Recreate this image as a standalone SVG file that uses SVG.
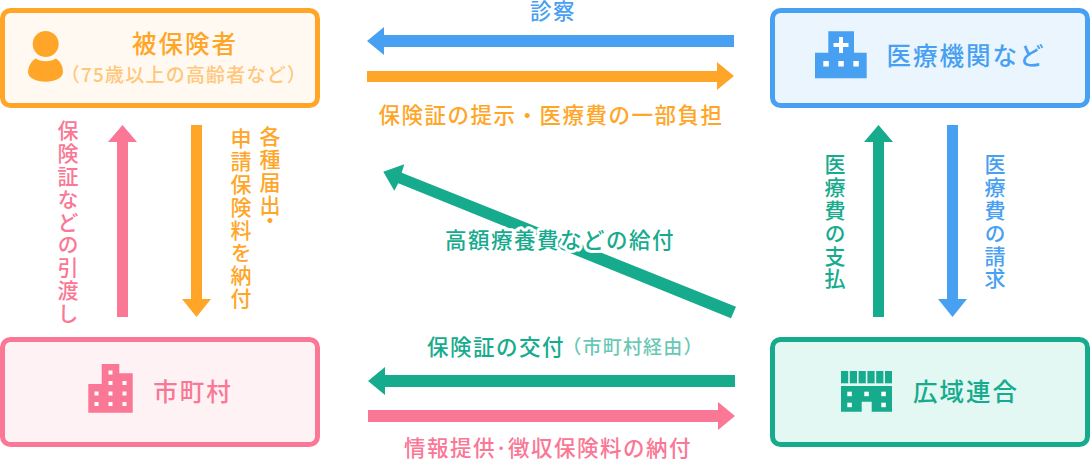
<svg xmlns="http://www.w3.org/2000/svg" width="1090" height="460" viewBox="0 0 1090 460">
<style>
text{font-family:"Noto Sans CJK JP","Noto Sans",sans-serif;font-weight:500;}
.box{stroke-width:5;}
.nm{font-size:24.500px;letter-spacing:2px;text-anchor:middle;}
.lb{font-size:21.500px;letter-spacing:1.500px;text-anchor:middle;}
.sub{font-size:19px;letter-spacing:1.200px;text-anchor:middle;}
.v{font-size:21px;letter-spacing:1.800px;writing-mode:vertical-rl;text-orientation:upright;}
.o{fill:#FFA629;}.b{fill:#48A0F2;}.g{fill:#17AB8E;}.p{fill:#FA7795;}
.w{fill:#fff;}
.halo{stroke:#fff;stroke-width:6px;paint-order:stroke;stroke-linejoin:round;}
</style>
<g id="connectors">
<polygon class="b" points="734,35 384,35 384,27 367,41 384,55 384,47 734,47"/>
<polygon class="o" points="367,71 717,71 717,62 734,76 717,90 717,82 367,82"/>
<polygon class="g" points="735,375 385,375 385,367 368,381 385,395 385,387 735,387"/>
<polygon class="p" points="368,410 718,410 718,402 735,416 718,430 718,422 368,422"/>
<polygon class="p" points="117,317 117,142 108,142 122.500,125 137,142 128,142 128,317"/>
<polygon class="o" points="191,125 191,299 182,299 196.500,317 211,299 202,299 202,125"/>
<polygon class="g" points="873,317 873,142 864,142 878.500,125 893,142 884,142 884,317"/>
<polygon class="b" points="947,125 947,299 938,299 952.500,317 967,299 958,299 958,125"/>
<polygon class="g" points="736,306.700 401.700,172.700 404.300,164.300 383.300,171.700 394.300,190.700 398.300,183.300 731,318.300"/>
</g>
<g id="labels">
<text class="lb b" x="553" y="19">診察</text>
<text class="lb o" x="551" y="123">保険証の提示・医療費の一部負担</text>
<text class="lb g halo" x="560" y="248">高額療養費などの給付</text>
<text class="lb g" x="496" y="355">保険証の交付</text>
<text class="sub g" x="633" y="354" opacity="0.65">（市町村経由）</text>
<text class="lb p" x="548" y="456">情報提供<tspan dx="-1">·</tspan><tspan dx="-1">徴収保険料の納付</tspan></text>
<text class="v p" x="68" y="120">保険証などの引渡し</text>
<text class="v o" x="241" y="128">申請保険料を納付</text>
<text class="v o" x="270" y="126">各種届出<tspan dy="-7">・</tspan></text>
<text class="v g" x="835" y="154">医療費の支払</text>
<text class="v b" x="995" y="154">医療費の請求</text>
</g>
<g id="node-insured">
<rect class="box" x="2.500" y="10.500" width="315" height="95" rx="8" fill="#FFF9F2" stroke="#FFA629"/>
<circle class="o" cx="45.700" cy="44" r="13"/>
<path class="o" d="M28 72C28.500 65 32 60.500 36 58.500C40 62 51.500 62 55.500 58.500C59.500 60.500 63 65 63 72C63 78 55 81.700 45.700 81.700C36 81.700 28 78 28 72Z"/>
<text class="nm o" x="185" y="53">被保険者</text>
<text class="sub o" x="184" y="82" opacity="0.6">（75歳以上の高齢者など）</text>
</g>
<g id="node-medical">
<rect class="box" x="772.500" y="10.500" width="315" height="95" rx="8" fill="#EAF5FE" stroke="#48A0F2"/>
<path class="b" d="M828.300 31.300H854V52.700H866.700V78.300H815V52.700H828.300Z"/>
<path class="w" d="M839 37H843V43H848.500V47H843V53H839V47H833.500V43H839Z"/>
<rect class="w" x="823.300" y="61" width="5.500" height="5.500"/>
<rect class="w" x="838.300" y="61" width="5.500" height="5.500"/>
<rect class="w" x="853.300" y="61" width="5.500" height="5.500"/>
<text class="nm b" x="966" y="65">医療機関など</text>
</g>
<g id="node-municipality">
<rect class="box" x="2.500" y="339.500" width="315" height="105" rx="8" fill="#FFF2F5" stroke="#FA7795"/>
<polygon class="p" points="88.300,384 101.700,384 101.700,364 119.300,364 119.300,373.300 132.700,373.300 132.700,412.700 88.300,412.700"/>
<g class="w">
<rect x="108.500" y="370.500" width="4" height="4"/>
<rect x="108.500" y="381" width="4" height="4"/><rect x="122.500" y="381" width="4" height="4"/>
<rect x="94.500" y="391.500" width="4" height="4"/><rect x="108.500" y="391.500" width="4" height="4"/><rect x="122.500" y="391.500" width="4" height="4"/>
<rect x="94.500" y="402" width="4" height="4"/><rect x="108.500" y="402" width="4" height="4"/><rect x="122.500" y="402" width="4" height="4"/>
</g>
<text class="nm p" x="193" y="401">市町村</text>
</g>
<g id="node-union">
<rect class="box" x="772.500" y="339.500" width="315" height="105" rx="8" fill="#E3F7F3" stroke="#17AB8E"/>
<g class="g">
<rect x="841" y="371" width="7.200" height="12.300"/><rect x="849.800" y="371" width="7.200" height="12.300"/><rect x="858.600" y="371" width="7.200" height="12.300"/><rect x="867.400" y="371" width="7.200" height="12.300"/><rect x="876.200" y="371" width="7.200" height="12.300"/><rect x="885" y="371" width="7" height="12.300"/>
<path d="M841 386H892V411.700H871.700V401.700H861.700V411.700H841Z"/>
</g>
<g class="w">
<rect x="847.300" y="391.700" width="4.500" height="4.500"/><rect x="864.300" y="391.700" width="4.500" height="4.500"/><rect x="881.300" y="391.700" width="4.500" height="4.500"/>
<rect x="847.300" y="402.700" width="4.500" height="4.500"/><rect x="881.300" y="402.700" width="4.500" height="4.500"/>
</g>
<text class="nm g" x="966" y="401">広域連合</text>
</g>
</svg>
